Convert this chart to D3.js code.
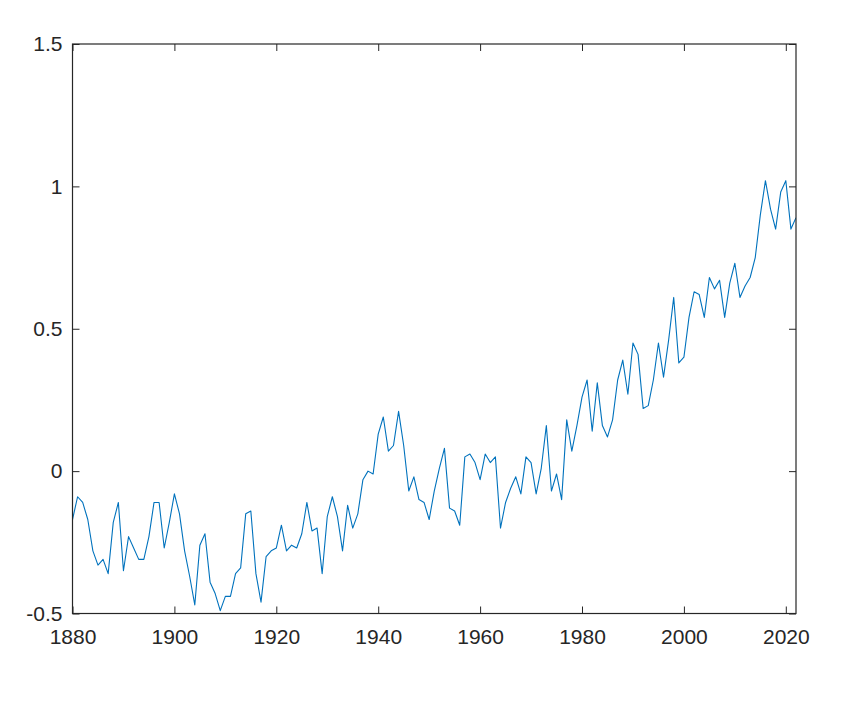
<!DOCTYPE html>
<html><head><meta charset="utf-8">
<script src="https://cdn.jsdelivr.net/npm/d3@7"></script>
<style>body{margin:0;background:#fff}svg{display:block}</style>
</head><body>
<script>
const years = d3.range(1880, 2023);
const anomalies = [
-0.17,-0.09,-0.11,-0.17,-0.28,-0.33,-0.31,-0.36,-0.18,-0.11,
-0.35,-0.23,-0.27,-0.31,-0.31,-0.23,-0.11,-0.11,-0.27,-0.18,
-0.08,-0.15,-0.28,-0.37,-0.47,-0.26,-0.22,-0.39,-0.43,-0.49,
-0.44,-0.44,-0.36,-0.34,-0.15,-0.14,-0.36,-0.46,-0.30,-0.28,
-0.27,-0.19,-0.28,-0.26,-0.27,-0.22,-0.11,-0.21,-0.20,-0.36,
-0.16,-0.09,-0.16,-0.28,-0.12,-0.20,-0.15,-0.03,0.00,-0.01,
0.13,0.19,0.07,0.09,0.21,0.09,-0.07,-0.02,-0.10,-0.11,
-0.17,-0.07,0.01,0.08,-0.13,-0.14,-0.19,0.05,0.06,0.03,
-0.03,0.06,0.03,0.05,-0.20,-0.11,-0.06,-0.02,-0.08,0.05,
0.03,-0.08,0.01,0.16,-0.07,-0.01,-0.10,0.18,0.07,0.16,
0.26,0.32,0.14,0.31,0.16,0.12,0.18,0.32,0.39,0.27,
0.45,0.41,0.22,0.23,0.32,0.45,0.33,0.46,0.61,0.38,
0.40,0.54,0.63,0.62,0.54,0.68,0.64,0.67,0.54,0.66,
0.73,0.61,0.65,0.68,0.75,0.90,1.02,0.92,0.85,0.98,
1.02,0.85,0.89];
const xTicks = [1880,1900,1920,1940,1960,1980,2000,2020];
const yTicks = [-0.5,0,0.5,1,1.5];
const yTickLabels = ["-0.5","0","0.5","1","1.5"];

const W = 862, H = 714;
const m = {left:72.5, right:W-796, top:44, bottom:H-613.5};
const svg = d3.select("body").append("svg").attr("width",W).attr("height",H);
const x = d3.scaleLinear().domain([1880,2022]).range([m.left, W-m.right]);
const y = d3.scaleLinear().domain([-0.5,1.5]).range([H-m.bottom, m.top]);
const axisColor = "#262626";
const font = "'Liberation Sans', Arial, Helvetica, sans-serif";
const tl = 7;

const gx = svg.append("g").attr("transform",`translate(0,${H-m.bottom})`)
  .call(d3.axisBottom(x).tickValues(xTicks).tickFormat(d3.format("d")).tickSizeInner(-tl).tickSizeOuter(0).tickPadding(16));
const gxt = svg.append("g").attr("transform",`translate(0,${m.top})`)
  .call(d3.axisTop(x).tickValues(xTicks).tickFormat("").tickSizeInner(-tl).tickSizeOuter(0));
const gy = svg.append("g").attr("transform",`translate(${m.left},0)`)
  .call(d3.axisLeft(y).tickValues(yTicks).tickFormat((d,i)=>yTickLabels[i]).tickSizeInner(-tl).tickSizeOuter(0).tickPadding(10));
const gyr = svg.append("g").attr("transform",`translate(${W-m.right},0)`)
  .call(d3.axisRight(y).tickValues(yTicks).tickFormat("").tickSizeInner(-tl).tickSizeOuter(0));
[gx,gxt,gy,gyr].forEach(g=>{
  g.selectAll("path,line").attr("stroke",axisColor).attr("stroke-width",1);
  g.selectAll("text").attr("fill",axisColor).style("font-family",font).style("font-size","21px");
});
gx.select(".domain").remove(); gxt.select(".domain").remove();
gy.select(".domain").remove(); gyr.select(".domain").remove();

svg.append("defs").append("clipPath").attr("id","clip").append("rect")
  .attr("x",m.left).attr("y",m.top).attr("width",W-m.right-m.left).attr("height",H-m.bottom-m.top);

svg.append("path").datum(years.map((d,i)=>[d,anomalies[i]]))
  .attr("clip-path","url(#clip)")
  .attr("fill","none").attr("stroke","#0072BD").attr("stroke-width",1.1)
  .attr("stroke-linejoin","round")
  .attr("d", d3.line().x(d=>x(d[0])).y(d=>y(d[1])));

svg.append("rect").attr("x",m.left).attr("y",m.top).attr("width",W-m.right-m.left).attr("height",H-m.bottom-m.top)
  .attr("fill","none").attr("stroke",axisColor).attr("stroke-width",1.2);
</script>
</body></html>
